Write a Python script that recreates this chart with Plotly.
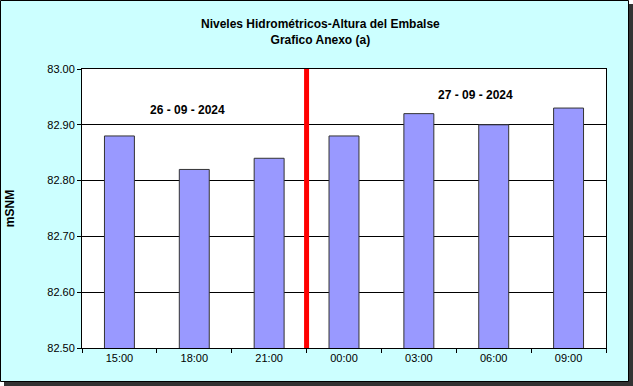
import plotly.graph_objects as go

categories = ["15:00", "18:00", "21:00", "00:00", "03:00", "06:00", "09:00"]
values = [82.88, 82.82, 82.84, 82.88, 82.92, 82.90, 82.93]
y_ticks = [82.50, 82.60, 82.70, 82.80, 82.90, 83.00]
title_lines = ["Niveles Hidrométricos-Altura del Embalse", "Grafico Anexo (a)"]
date_labels = ["26 - 09 - 2024", "27 - 09 - 2024"]

W, H = 633, 386
L, R, T, B = 82, 606, 69, 348
pw, ph = R - L, B - T

def px(x):
    return (x - L) / pw

def py(y):
    return (B - y) / ph

font = "Liberation Sans, Arial, sans-serif"

fig = go.Figure()
fig.add_trace(go.Bar(
    x=categories, y=values,
    marker=dict(color="#9999FF", line=dict(color="#333333", width=1)),
    width=0.4,
))

shapes = [
    dict(type="rect", xref="paper", yref="paper", x0=px(4), x1=px(633), y0=py(386), y1=py(4),
         fillcolor="#333333", line=dict(width=0), layer="below"),
    dict(type="rect", xref="paper", yref="paper", x0=px(0.5), x1=px(628.5), y0=py(381.5), y1=py(0.5),
         fillcolor="#CCFFFF", line=dict(color="black", width=1), layer="below"),
    dict(type="rect", xref="paper", yref="paper", x0=0, x1=1, y0=0, y1=1,
         fillcolor="white", line=dict(width=0), layer="below"),
    dict(type="line", xref="x", yref="y", x0=2.5, x1=2.5, y0=82.5, y1=83.0,
         line=dict(color="#FF0000", width=5), layer="above"),
]

annotations = [
    dict(text="<b>%s</b><br><b>%s</b>" % tuple(title_lines), xref="paper", yref="paper",
         x=px(320), y=py(32), showarrow=False, font=dict(family=font, size=12, color="black"),
         xanchor="center", yanchor="middle"),
    dict(text="<b>%s</b>" % date_labels[0], xref="x", yref="y", x=0.91, y=82.926,
         showarrow=False, font=dict(family=font, size=12, color="black")),
    dict(text="<b>%s</b>" % date_labels[1], xref="x", yref="y", x=4.75, y=82.953,
         showarrow=False, font=dict(family=font, size=12, color="black")),
]

fig.update_layout(
    width=W, height=H,
    margin=dict(l=L, r=W - R, t=T, b=H - B, pad=0, autoexpand=False),
    paper_bgcolor="white",
    plot_bgcolor="rgba(0,0,0,0)",
    showlegend=False,
    shapes=shapes,
    annotations=annotations,
    font=dict(family=font, size=11, color="black"),
    xaxis=dict(
        type="category", tickson="boundaries", ticks="outside", ticklen=4, tickcolor="black",
        showline=True, linecolor="black", linewidth=1, mirror=True, showgrid=False,
        tickfont=dict(family=font, size=11), range=[-0.5, 6.5], automargin=False,
    ),
    yaxis=dict(
        range=[82.5, 83.0], tickvals=y_ticks, tickformat=".2f", ticks="outside", ticklen=4,
        tickcolor="black", showline=True, linecolor="black", linewidth=1, mirror=True,
        showgrid=True, gridcolor="black", gridwidth=1, zeroline=False,
        tickfont=dict(family=font, size=11), automargin=False,
        title=dict(text="<b>mSNM</b>", font=dict(family=font, size=12), standoff=30),
    ),
)

fig.write_html("out.html", config={"displayModeBar": False},
               post_script="document.body.style.margin='0';")
